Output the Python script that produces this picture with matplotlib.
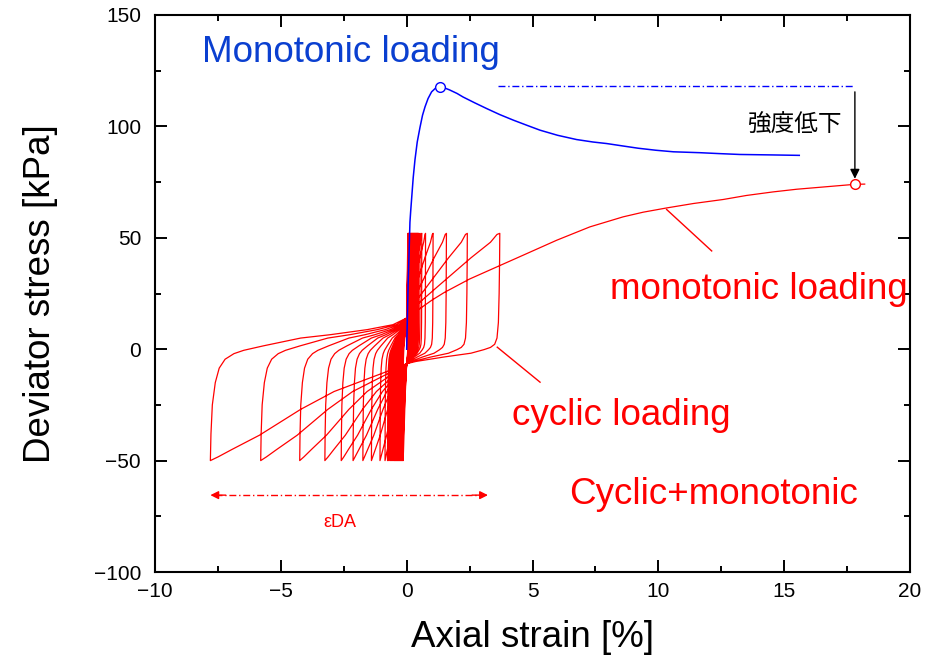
import numpy as np
import matplotlib
matplotlib.use('Agg')
import matplotlib.pyplot as plt
from matplotlib.ticker import MultipleLocator

plt.rcParams['font.family'] = ['Liberation Sans', 'Noto Sans CJK JP', 'DejaVu Sans']

# monotonic loading (blue)
mono_strain = [0.0, 0.03, 0.06, 0.1, 0.13, 0.16, 0.2, 0.26, 0.33, 0.42, 0.53, 0.63, 0.73,
               0.85, 0.99, 1.15, 1.32, 1.5, 1.7, 2.0, 2.24, 2.7, 3.18, 3.7, 4.24, 4.8, 5.3,
               6.0, 6.75, 7.4, 7.95, 8.6, 9.2, 9.9, 10.6, 11.65, 12.4, 13.24, 14.5, 15.6]
mono_stress = [0.0, 15.0, 30.0, 45.0, 57.0, 62.0, 68.0, 77.0, 85.0, 93.0, 99.6, 105.0, 108.8,
               112.5, 115.5, 117.2, 117.7, 117.3, 116.4, 114.8, 113.2, 110.6, 108.0, 105.3,
               102.8, 100.4, 98.3, 96.0, 94.1, 93.0, 92.3, 91.2, 90.2, 89.3, 88.6, 88.2,
               87.8, 87.4, 87.2, 87.0]
mono_peak = (1.32, 117.7)

# cyclic loading: peak strains of each cycle (compression at +52 kPa, extension at -50 kPa)
comp_peak = [0.05, 0.07, 0.09, 0.11, 0.13, 0.15, 0.17, 0.19, 0.21, 0.23, 0.25, 0.27, 0.29,
             0.31, 0.33, 0.35, 0.37, 0.39, 0.41, 0.43, 0.45, 0.47, 0.53, 0.60, 0.75, 1.05,
             1.58, 2.41, 3.70]
ext_peak = [-0.14, -0.17, -0.20, -0.23, -0.26, -0.29, -0.32, -0.35, -0.38, -0.41, -0.44,
            -0.47, -0.50, -0.54, -0.58, -0.62, -0.66, -0.71, -0.76, -0.86, -1.06, -1.40,
            -1.74, -2.13, -2.60, -3.25, -4.25, -5.80, -7.80]

# branch shapes of the loops, as fraction of the peak strain vs stress
rise_frac = [0.0, 0.07, 0.33, 0.69, 0.9, 0.97, 1.0]
rise_q = [14.0, 18.5, 28.0, 41.0, 48.0, 51.5, 52.0]
unload_frac = [1.0, 0.998, 0.993, 0.985, 0.97, 0.945, 0.9, 0.83, 0.69, 0.4, 0.1, 0.0]
unload_q = [52.0, 40.0, 25.0, 12.0, 5.0, 2.2, 0.8, -0.2, -1.8, -3.5, -5.5, -6.5]
ext_frac = [0.0, 0.1, 0.37, 0.54, 0.75, 0.89, 0.96, 0.99, 1.0]
ext_q = [-6.5, -10.0, -19.0, -27.0, -38.6, -45.0, -48.3, -49.6, -50.0]
reload_frac = [1.0, 0.997, 0.99, 0.975, 0.955, 0.925, 0.88, 0.83, 0.73, 0.54, 0.39, 0.2,
               0.07, 0.0]
reload_q = [-50.0, -38.0, -25.0, -15.0, -8.5, -4.5, -2.0, -0.5, 1.5, 5.0, 6.5, 8.8, 11.0, 14.0]

# monotonic loading after the cyclic loading (red)
post_strain = [0.5, 1.0, 1.5, 2.0, 2.5, 3.0, 3.31, 3.8, 4.63, 5.96, 7.28, 8.6, 9.4, 10.33,
               11.4, 12.58, 13.5, 14.56, 15.5, 16.55, 17.81, 18.2]
post_stress = [18.0, 22.0, 25.5, 28.5, 31.5, 34.0, 35.5, 38.0, 42.2, 48.9, 54.9, 59.4, 61.5,
               63.4, 65.4, 67.2, 69.0, 70.6, 71.8, 72.8, 74.0, 74.1]
post_end = (17.81, 74.0)


def main():
    fig = plt.figure(figsize=(9.41, 6.63), dpi=100)
    ax = fig.add_axes([155 / 941, 91 / 663, 755 / 941, 557 / 663])

    # build the cyclic path
    xs = [0.0]
    ys = [0.0]
    prev_e = None
    for c, e in zip(comp_peak, ext_peak):
        if prev_e is not None:
            xs += [prev_e * f for f in reload_frac]
            ys += reload_q
        xs += [c * f for f in rise_frac]
        ys += rise_q
        xs += [c * f for f in unload_frac]
        ys += unload_q
        xs += [e * f for f in ext_frac]
        ys += ext_q
        prev_e = e
    xs += [prev_e * f for f in reload_frac]
    ys += reload_q
    xs += post_strain
    ys += post_stress

    ax.plot(xs, ys, color='#ff0000', lw=0.9, zorder=2)
    ax.plot(mono_strain, mono_stress, color='#0000ff', lw=1.1, zorder=3)

    ax.plot(*mono_peak, 'o', ms=7, mfc='white', mec='#0000ff', mew=1.0, zorder=4)
    ax.plot(*post_end, 'o', ms=7, mfc='white', mec='#ff0000', mew=1.0, zorder=4)

    # strength reduction
    ax.plot([3.63, 17.74], [mono_peak[1] + 0.6] * 2, color='#0000ff', lw=1.0,
            linestyle=(0, (5, 2, 1, 2)))
    ax.annotate('', xy=(17.81, 76.5), xytext=(17.81, 115.5),
                arrowprops=dict(arrowstyle='-|>', color='black', lw=1.0,
                                mutation_scale=14, shrinkA=0, shrinkB=0))
    ax.text(15.43, 100.5, '強度低下', fontsize=17, ha='center', va='center',
            family=['Noto Sans CJK JP', 'DejaVu Sans'])

    # double amplitude strain
    ax.plot([-7.6, 3.0], [-65.5, -65.5], color='#ff0000', lw=1.0, linestyle=(0, (5, 2, 1, 2)))
    ax.annotate('', xy=(-7.8, -65.5), xytext=(-7.2, -65.5),
                arrowprops=dict(arrowstyle='-|>', color='#ff0000', lw=1.0,
                                mutation_scale=12, shrinkA=0, shrinkB=0))
    ax.annotate('', xy=(3.23, -65.5), xytext=(2.6, -65.5),
                arrowprops=dict(arrowstyle='-|>', color='#ff0000', lw=1.0,
                                mutation_scale=12, shrinkA=0, shrinkB=0))
    ax.text(-2.64, -78, 'εDA', fontsize=13, color='#ff0000', ha='center', va='center')

    # pointers
    ax.plot([10.33, 12.12], [62.7, 44.1], color='#ff0000', lw=1.0)
    ax.plot([3.6, 5.3], [0.9, -14.8], color='#ff0000', lw=1.0)

    ax.text(-8.13, 133.3, 'Monotonic loading', fontsize=26.5, color='#0a3fd0', va='center')
    ax.text(8.08, 26.9, 'monotonic loading', fontsize=26.5, color='#ff0000', va='center')
    ax.text(4.19, -29.6, 'cyclic loading', fontsize=26.5, color='#ff0000', va='center')
    ax.text(6.45, -65.1, 'Cyclic+monotonic', fontsize=26.5, color='#ff0000', va='center')

    ax.set_xlim(-10, 20)
    ax.set_ylim(-100, 150)
    ax.xaxis.set_major_locator(MultipleLocator(5))
    ax.xaxis.set_minor_locator(MultipleLocator(2.5))
    ax.yaxis.set_major_locator(MultipleLocator(50))
    ax.yaxis.set_minor_locator(MultipleLocator(25))
    ax.tick_params(which='both', direction='in', top=True, right=True, width=1.4,
                   labelsize=15)
    ax.tick_params(which='major', length=8.6)
    ax.tick_params(which='minor', length=4.3)
    ax.tick_params(axis='x', pad=7)
    ax.tick_params(axis='y', pad=10)
    for s in ax.spines.values():
        s.set_linewidth(1.5)

    ax.set_xlabel('Axial strain [%]', fontsize=26.5, labelpad=14)
    ax.set_ylabel('Deviator stress [kPa]', fontsize=26.5, labelpad=26)

    fig.savefig('out.png', dpi=100)


if __name__ == '__main__':
    main()
